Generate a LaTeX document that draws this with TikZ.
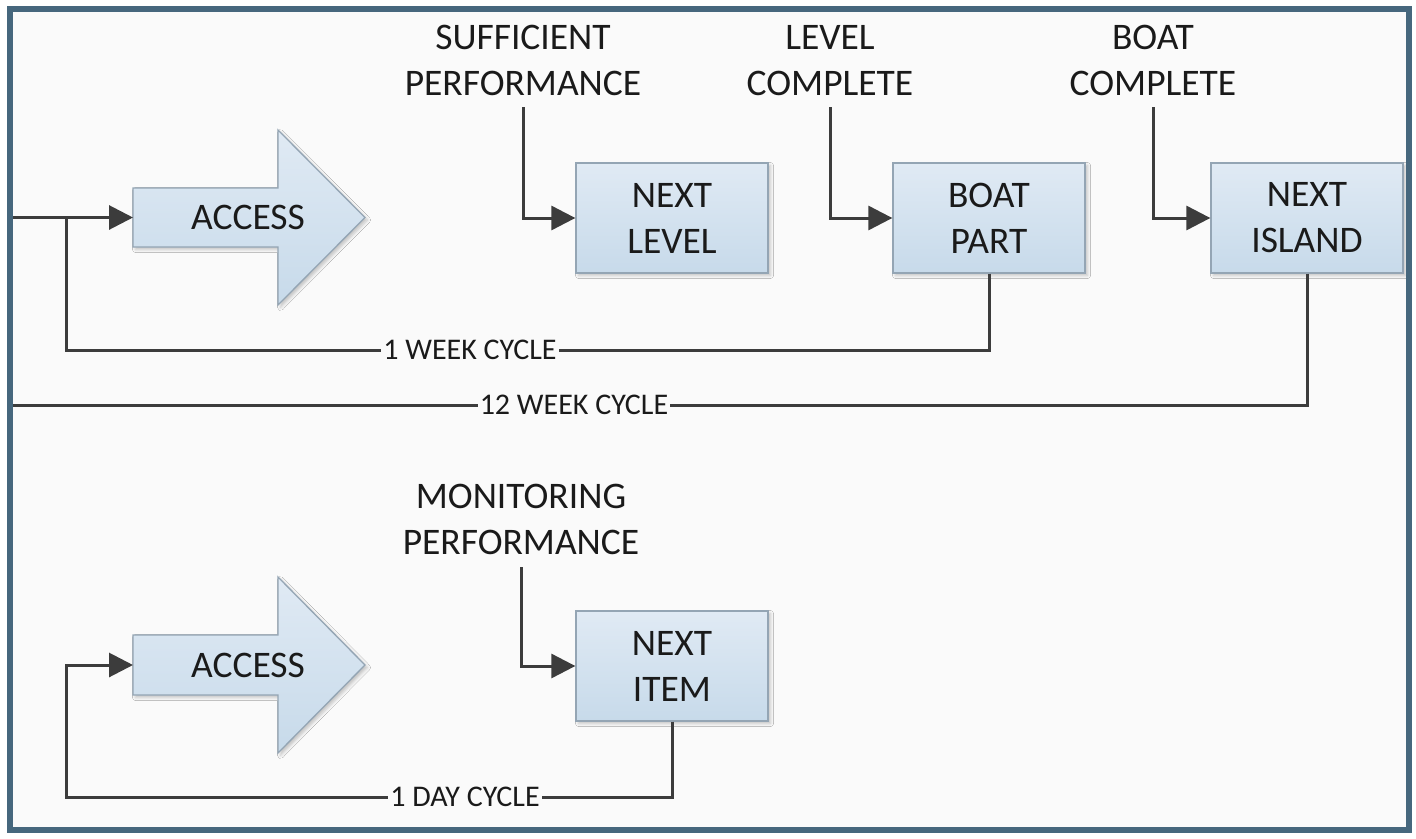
\documentclass[tikz,border=0pt]{standalone}
\usepackage{fontspec}
\setmainfont{Carlito}
\usetikzlibrary{arrows.meta,shadows.blur}

\definecolor{framec}{HTML}{46677D}
\definecolor{panel}{HTML}{FAFAFA}
\definecolor{boxtop}{HTML}{E0EAF4}
\definecolor{boxbot}{HTML}{C7DAEA}
\definecolor{boxedge}{HTML}{94A5B4}
\definecolor{ink}{HTML}{3C3C3C}
\definecolor{txt}{HTML}{1A1A1A}

\newcommand\bigtext{\fontsize{37.5}{46}\selectfont}
\newcommand\cyctext{\fontsize{30}{36}\selectfont}

\begin{document}
\begin{tikzpicture}[x=1pt,y=-1pt,
  softshadow/.style={blur shadow={shadow xshift=2.5pt,shadow yshift=-2.5pt,
      shadow blur radius=3pt,shadow opacity=22}},
  stepbox/.style={draw=boxedge,line width=1.3pt,top color=boxtop,bottom color=boxbot,
      minimum width=192pt,minimum height=110pt,inner sep=0pt,align=center,
      font=\bigtext,text=txt,softshadow},
  accshape/.style={draw=boxedge,line width=1.3pt,top color=boxtop,bottom color=boxbot,
      line join=miter,softshadow},
  acctext/.style={font=\bigtext,text=txt,inner sep=0pt},
  lbl/.style={font=\bigtext,text=txt,align=center,inner sep=0pt},
  cyc/.style={font=\cyctext,text=txt,fill=panel,inner xsep=2pt,inner ysep=2pt},
  conn/.style={draw=ink,line width=3pt},
  tip/.style={-{Triangle[length=24pt,width=24pt]}}]

\useasboundingbox (0,0) rectangle (1416,838);
\fill[white] (0,0) rectangle (1416,838);
\fill[panel] (10,9) rectangle (1409,830);

% ---------- weekly / term loop ----------
\path[accshape] (133,188) -- (278,188) -- (278,130) -- (365,217.5)
      -- (278,305) -- (278,247) -- (133,247) -- cycle;
\node[acctext] (acc1) at (248,217.5) {ACCESS};
\coordinate (acc1-t) at (133,217.5);

\node[stepbox] (nl) at (672,218) {NEXT\\LEVEL};
\node[stepbox] (bp) at (989,218) {BOAT\\PART};
\node[stepbox] (ni) at (1307,218) {NEXT\\ISLAND};

\node[lbl] (sp) at (523,60.5) {SUFFICIENT\\PERFORMANCE};
\node[lbl] (lc) at (830,60.5) {LEVEL\\COMPLETE};
\node[lbl] (bc) at (1153,60.5) {BOAT\\COMPLETE};
\coordinate (sp-o) at (523,107);
\coordinate (lc-o) at (830,107);
\coordinate (bc-o) at (1153,107);

\draw[conn,tip] (sp-o) |- (nl.west);
\draw[conn,tip] (lc-o) |- (bp.west);
\draw[conn,tip] (bc-o) |- (ni.west);

\coordinate (src) at (10,217.5);
\coordinate (j1) at (66,217.5);
\coordinate (w1) at (66,350);
\coordinate (w12) at (10,405);

\draw[conn,tip] (src) -- (acc1-t);
\draw[conn] (bp.south) |- (w1) -- (j1);
\draw[conn] (ni.south) |- (w12);
\node[cyc] (wk1) at (470,350) {1 WEEK CYCLE};
\node[cyc] (wk12) at (574,405) {12 WEEK CYCLE};

% ---------- daily loop ----------
\path[accshape] (133,635) -- (278,635) -- (278,577) -- (365,665)
      -- (278,753) -- (278,695) -- (133,695) -- cycle;
\node[acctext] (acc2) at (248,665) {ACCESS};
\coordinate (acc2-t) at (133,665);

\node[stepbox] (nx) at (672,666) {NEXT\\ITEM};
\node[lbl] (mp) at (521,519.5) {MONITORING\\PERFORMANCE};
\coordinate (mp-o) at (521,567);
\draw[conn,tip] (mp-o) |- (nx.west);

\coordinate (d1) at (66,797);
\draw[conn,tip] (nx.south) |- (d1) |- (acc2-t);
\node[cyc] (day) at (465,797) {1 DAY CYCLE};

% outer frame
\draw[framec,line width=6pt] (10,9) rectangle (1409,830);
\end{tikzpicture}
\end{document}
